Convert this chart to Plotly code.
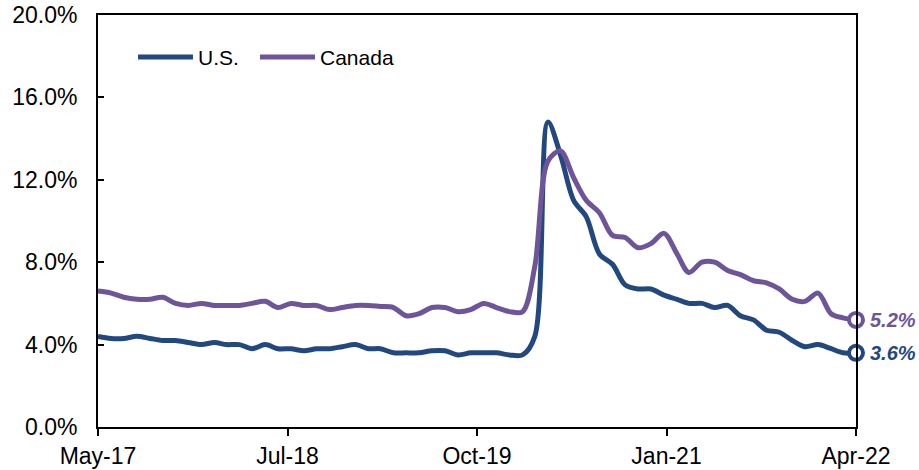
import pandas as pd
import plotly.graph_objects as go

months = pd.date_range("2017-05-01", periods=60, freq="MS")

us_rate = [4.4, 4.3, 4.3, 4.4, 4.3, 4.2, 4.2, 4.1, 4.0, 4.1, 4.0, 4.0,
           3.8, 4.0, 3.8, 3.8, 3.7, 3.8, 3.8, 3.9, 4.0, 3.8, 3.8, 3.6,
           3.6, 3.6, 3.7, 3.7, 3.5, 3.6, 3.6, 3.6, 3.5, 3.5, 4.4, 14.8,
           13.2, 11.0, 10.2, 8.4, 7.9, 6.9, 6.7, 6.7, 6.4, 6.2, 6.0, 6.0,
           5.8, 5.9, 5.4, 5.2, 4.7, 4.6, 4.2, 3.9, 4.0, 3.8, 3.6, 3.6]

canada_rate = [6.6, 6.5, 6.3, 6.2, 6.2, 6.3, 6.0, 5.9, 6.0, 5.9, 5.9, 5.9,
               6.0, 6.1, 5.8, 6.0, 5.9, 5.9, 5.7, 5.8, 5.9, 5.9, 5.85, 5.8,
               5.4, 5.5, 5.8, 5.8, 5.6, 5.7, 6.0, 5.8, 5.6, 5.6, 7.8, 12.9,
               13.4, 12.1, 11.0, 10.4, 9.3, 9.2, 8.7, 8.9, 9.4, 8.4, 7.5, 8.0,
               8.0, 7.6, 7.4, 7.1, 7.0, 6.7, 6.2, 6.1, 6.5, 5.5, 5.3, 5.2]

x_tick_labels = ["May-17", "Jul-18", "Oct-19", "Jan-21", "Apr-22"]
y_ticks = [0, 4, 8, 12, 16, 20]
y_tick_labels = [f"{v:.1f}%" for v in y_ticks]

US_COLOR = "#23487F"
CA_COLOR = "#6E5599"
FONT = "Arial, Liberation Sans, sans-serif"

start, end = months[0], months[-1]
step = (end - start) / (len(x_tick_labels) - 1)
x_tickvals = [start + i * step for i in range(len(x_tick_labels))]

fig = go.Figure()
for name, vals, col in [("U.S.", us_rate, US_COLOR), ("Canada", canada_rate, CA_COLOR)]:
    fig.add_trace(go.Scatter(
        x=months, y=vals, mode="lines", name=name,
        line=dict(color=col, width=5, shape="spline", smoothing=0.9),
        showlegend=False, cliponaxis=False,
    ))
for vals, col in [(us_rate, US_COLOR), (canada_rate, CA_COLOR)]:
    fig.add_trace(go.Scatter(
        x=[months[-1]], y=[vals[-1]], mode="markers",
        marker=dict(size=14, color="white", line=dict(color=col, width=4)),
        showlegend=False, cliponaxis=False,
    ))
    fig.add_annotation(
        x=months[-1], y=vals[-1], text=f"<b><i>{vals[-1]:.1f}%</i></b>",
        xanchor="left", yanchor="middle", xshift=12, showarrow=False,
        font=dict(family=FONT, size=20, color=col),
    )

# manual legend (long line samples)
legend_items = [("U.S.", US_COLOR, 0.0528, 0.1253), ("Canada", CA_COLOR, 0.2137, 0.2863)]
for name, col, x0, x1 in legend_items:
    fig.add_shape(type="line", xref="paper", yref="paper", x0=x0, x1=x1,
                  y0=0.898, y1=0.898, line=dict(color=col, width=5))
    fig.add_annotation(xref="paper", yref="paper", x=x1 + 0.004, y=0.898,
                       text=name, xanchor="left", yanchor="middle", showarrow=False,
                       font=dict(family=FONT, size=21, color="black"))

fig.update_layout(
    width=919, height=470,
    margin=dict(l=98, r=63, t=15, b=43, autoexpand=False),
    paper_bgcolor="white", plot_bgcolor="white",
    font=dict(family=FONT, size=23, color="black"),
    showlegend=False,
)
fig.update_xaxes(
    type="date", range=[start, end], automargin=False,
    tickvals=x_tickvals, ticktext=x_tick_labels,
    showgrid=False, zeroline=False,
    showline=True, linecolor="black", linewidth=2, mirror=True,
    ticks="outside", ticklen=7, tickwidth=2, tickcolor="black",
    tickfont=dict(size=23),
)
fig.update_yaxes(
    range=[0, 20], automargin=False,
    tickvals=y_ticks, ticktext=y_tick_labels,
    showgrid=False, zeroline=False,
    showline=True, linecolor="black", linewidth=2, mirror=True,
    ticks="inside", ticklen=6, tickwidth=2, tickcolor="black",
    tickfont=dict(size=23), ticklabelstandoff=14,
)

fig.write_html("out.html")
